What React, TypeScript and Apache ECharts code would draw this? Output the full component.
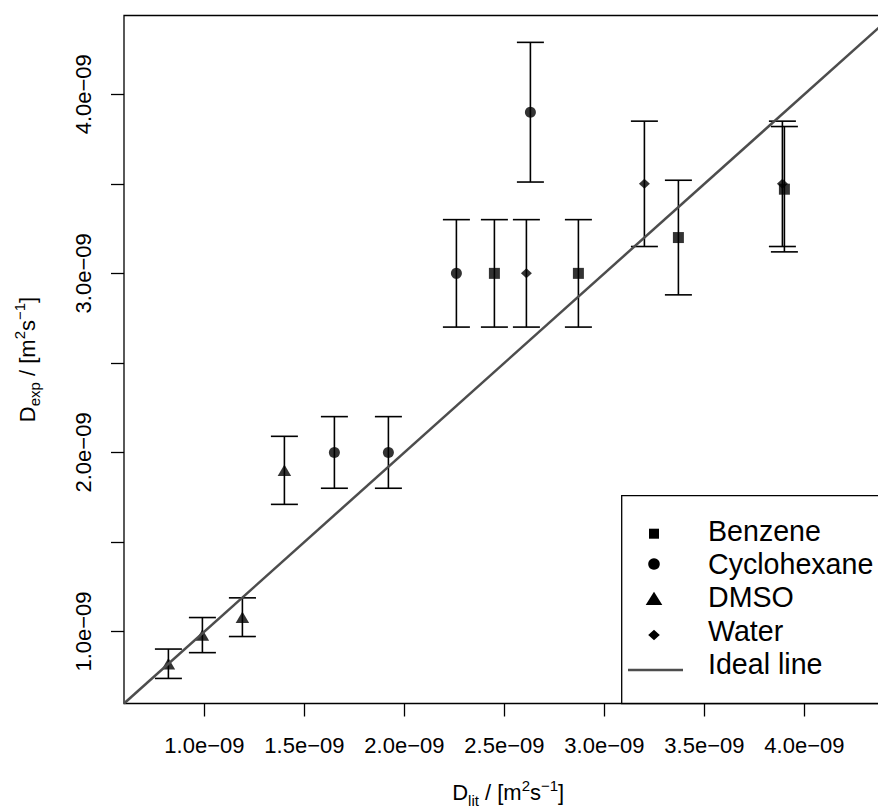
import React, { useEffect, useRef } from "react";
import * as echarts from "echarts";

// values in units of 1e-9 m^2 s^-1
const benzeneX = [2.45, 2.87, 3.37, 3.9];
const benzeneY = [3.0, 3.0, 3.2, 3.47];
const benzeneErr = [0.3, 0.3, 0.32, 0.35];

const cyclohexaneX = [1.65, 1.92, 2.26, 2.63];
const cyclohexaneY = [2.0, 2.0, 3.0, 3.9];
const cyclohexaneErr = [0.2, 0.2, 0.3, 0.39];

const dmsoX = [0.82, 0.99, 1.19, 1.4];
const dmsoY = [0.82, 0.98, 1.08, 1.9];
const dmsoErr = [0.082, 0.098, 0.108, 0.19];

const waterX = [2.61, 3.2, 3.89];
const waterY = [3.0, 3.5, 3.5];
const waterErr = [0.3, 0.35, 0.35];

const axisMin = 0.598;
const axisMax = 4.44;
const xTicks = [1.0, 1.5, 2.0, 2.5, 3.0, 3.5, 4.0];
const yTicks = [1.0, 1.5, 2.0, 2.5, 3.0, 3.5, 4.0];
const yLabels = [1.0, 2.0, 3.0, 4.0];
const legendNames = ["Benzene", "Cyclohexane", "DMSO", "Water", "Ideal line"];

const FONT = "'Liberation Sans', Arial, Helvetica, sans-serif";

function zip(xs: number[], ys: number[]) {
  return xs.map((x, i) => [x, ys[i]]);
}
function zip3(xs: number[], ys: number[], es: number[]) {
  return xs.map((x, i) => [x, ys[i], es[i]]);
}

const fmt = (v: number) => v.toFixed(1) + "e\u221209";

const richName = {
  n: { fontSize: 22, lineHeight: 30, verticalAlign: "middle", fontFamily: FONT, color: "#000" },
  sub: { fontSize: 15, lineHeight: 15, verticalAlign: "bottom", fontFamily: FONT, color: "#000" },
  sup: { fontSize: 15, lineHeight: 13, verticalAlign: "top", fontFamily: FONT, color: "#000" },
};

export default function App() {
  const ref = useRef<HTMLDivElement>(null);
  useEffect(() => {
    if (!ref.current) return;
    document.body.style.overflow = "hidden";
    document.body.style.margin = "0";
    const chart = echarts.init(ref.current, null, { renderer: "svg" });

    const errData = [
      ...zip3(benzeneX, benzeneY, benzeneErr),
      ...zip3(cyclohexaneX, cyclohexaneY, cyclohexaneErr),
      ...zip3(dmsoX, dmsoY, dmsoErr),
      ...zip3(waterX, waterY, waterErr),
    ];

    const capHalf = 13.5;
    const lx = 628;
    const legendRowsText = [530.5, 564, 597, 630.5, 664];

    const option: any = {
      animation: false,
      backgroundColor: "#fff",
      grid: {
        left: 124,
        top: 15.5,
        width: 768.4,
        height: 688,
        show: true,
        borderColor: "#000",
        borderWidth: 1.3,
        backgroundColor: "transparent",
        containLabel: false,
        outerBoundsMode: "none",
      },
      xAxis: {
        type: "value",
        min: axisMin,
        max: axisMax,
        axisLine: { show: false },
        splitLine: { show: false },
        axisTick: {
          show: true,
          customValues: xTicks,
          length: 13,
          lineStyle: { color: "#000", width: 1.3 },
        },
        axisLabel: {
          customValues: xTicks,
          formatter: fmt,
          fontSize: 22,
          color: "#000",
          margin: 31,
          fontFamily: FONT,
        },
        name: "{n|D}{sub|lit}{n| / [m}{sup|2}{n|s}{sup|\u22121}{n|]}",
        nameLocation: "middle",
        nameGap: 74,
        nameTextStyle: { rich: richName },
      },
      yAxis: {
        type: "value",
        min: axisMin,
        max: axisMax,
        axisLine: { show: false },
        splitLine: { show: false },
        axisTick: {
          show: true,
          customValues: yTicks,
          length: 13,
          lineStyle: { color: "#000", width: 1.3 },
        },
        axisLabel: {
          customValues: yLabels,
          formatter: fmt,
          fontSize: 22,
          color: "#000",
          margin: 30,
          rotate: 90,
          fontFamily: FONT,
        },
        name: "{n|D}{sub|exp}{n| / [m}{sup|2}{n|s}{sup|\u22121}{n|]}",
        nameLocation: "middle",
        nameGap: 82,
        nameTextStyle: { rich: richName },
      },
      series: [
        {
          type: "custom",
          name: "errors",
          z: 2,
          data: errData,
          renderItem: (params: any, api: any) => {
            const x = api.value(0);
            const y = api.value(1);
            const e = api.value(2);
            const top = api.coord([x, y + e]);
            const bot = api.coord([x, y - e]);
            const st = { stroke: "#000", lineWidth: 1.6 };
            return {
              type: "group",
              children: [
                { type: "line", shape: { x1: top[0], y1: top[1], x2: bot[0], y2: bot[1] }, style: st },
                { type: "line", shape: { x1: top[0] - capHalf, y1: top[1], x2: top[0] + capHalf, y2: top[1] }, style: st },
                { type: "line", shape: { x1: bot[0] - capHalf, y1: bot[1], x2: bot[0] + capHalf, y2: bot[1] }, style: st },
              ],
            };
          },
        },
        {
          type: "scatter",
          name: "Benzene",
          z: 3,
          symbol: "rect",
          symbolSize: 11,
          itemStyle: { color: "#000" },
          data: zip(benzeneX, benzeneY),
        },
        {
          type: "scatter",
          name: "Cyclohexane",
          z: 3,
          symbol: "circle",
          symbolSize: 11,
          itemStyle: { color: "#000" },
          data: zip(cyclohexaneX, cyclohexaneY),
        },
        {
          type: "scatter",
          name: "DMSO",
          z: 3,
          symbol: "triangle",
          symbolSize: [13.5, 11.5],
          itemStyle: { color: "#000" },
          data: zip(dmsoX, dmsoY),
        },
        {
          type: "scatter",
          name: "Water",
          z: 3,
          symbol: "diamond",
          symbolSize: [11, 10],
          itemStyle: { color: "#000" },
          data: zip(waterX, waterY),
        },
        {
          type: "line",
          name: "Ideal line",
          z: 4,
          symbol: "none",
          lineStyle: { color: "#4d4d4d", width: 2.5 },
          data: [
            [axisMin, axisMin],
            [axisMax, axisMax],
          ],
        },
      ],
      graphic: [
        {
          type: "rect",
          z: 10,
          shape: { x: 621.7, y: 495.7, width: 300, height: 703.5 - 495.7 },
          style: { fill: "#fff", stroke: "#000", lineWidth: 1.3 },
        },
        {
          type: "rect",
          z: 11,
          shape: { x: 654 - 5, y: 533.7 - 5, width: 10, height: 10 },
          style: { fill: "#000" },
        },
        {
          type: "circle",
          z: 11,
          shape: { cx: 654, cy: 564, r: 5.8 },
          style: { fill: "#000" },
        },
        {
          type: "polygon",
          z: 11,
          shape: { points: [[654, 591.8], [662.3, 605], [645.7, 605]] },
          style: { fill: "#000" },
        },
        {
          type: "polygon",
          z: 11,
          shape: { points: [[654, 629.7], [659.8, 635], [654, 640.3], [648.2, 635]] },
          style: { fill: "#000" },
        },
        {
          type: "line",
          z: 11,
          shape: { x1: lx, y1: 670, x2: lx + 55, y2: 670 },
          style: { stroke: "#4d4d4d", lineWidth: 2.5 },
        },
        ...legendNames.map((name, i) => ({
          type: "text",
          z: 11,
          x: 708,
          y: legendRowsText[i],
          style: {
            text: name,
            fontSize: 28.6,
            fontFamily: FONT,
            fill: "#000",
            verticalAlign: "middle",
            align: "left",
          },
        })),
      ],
    };

    chart.setOption(option);
    return () => chart.dispose();
  }, []);

  return (
    <div
      style={{
        position: "absolute",
        left: 0,
        top: 0,
        width: 878,
        height: 807,
        overflow: "hidden",
      }}
    >
      <div ref={ref} style={{ width: 878, height: 807 }} />
    </div>
  );
}
